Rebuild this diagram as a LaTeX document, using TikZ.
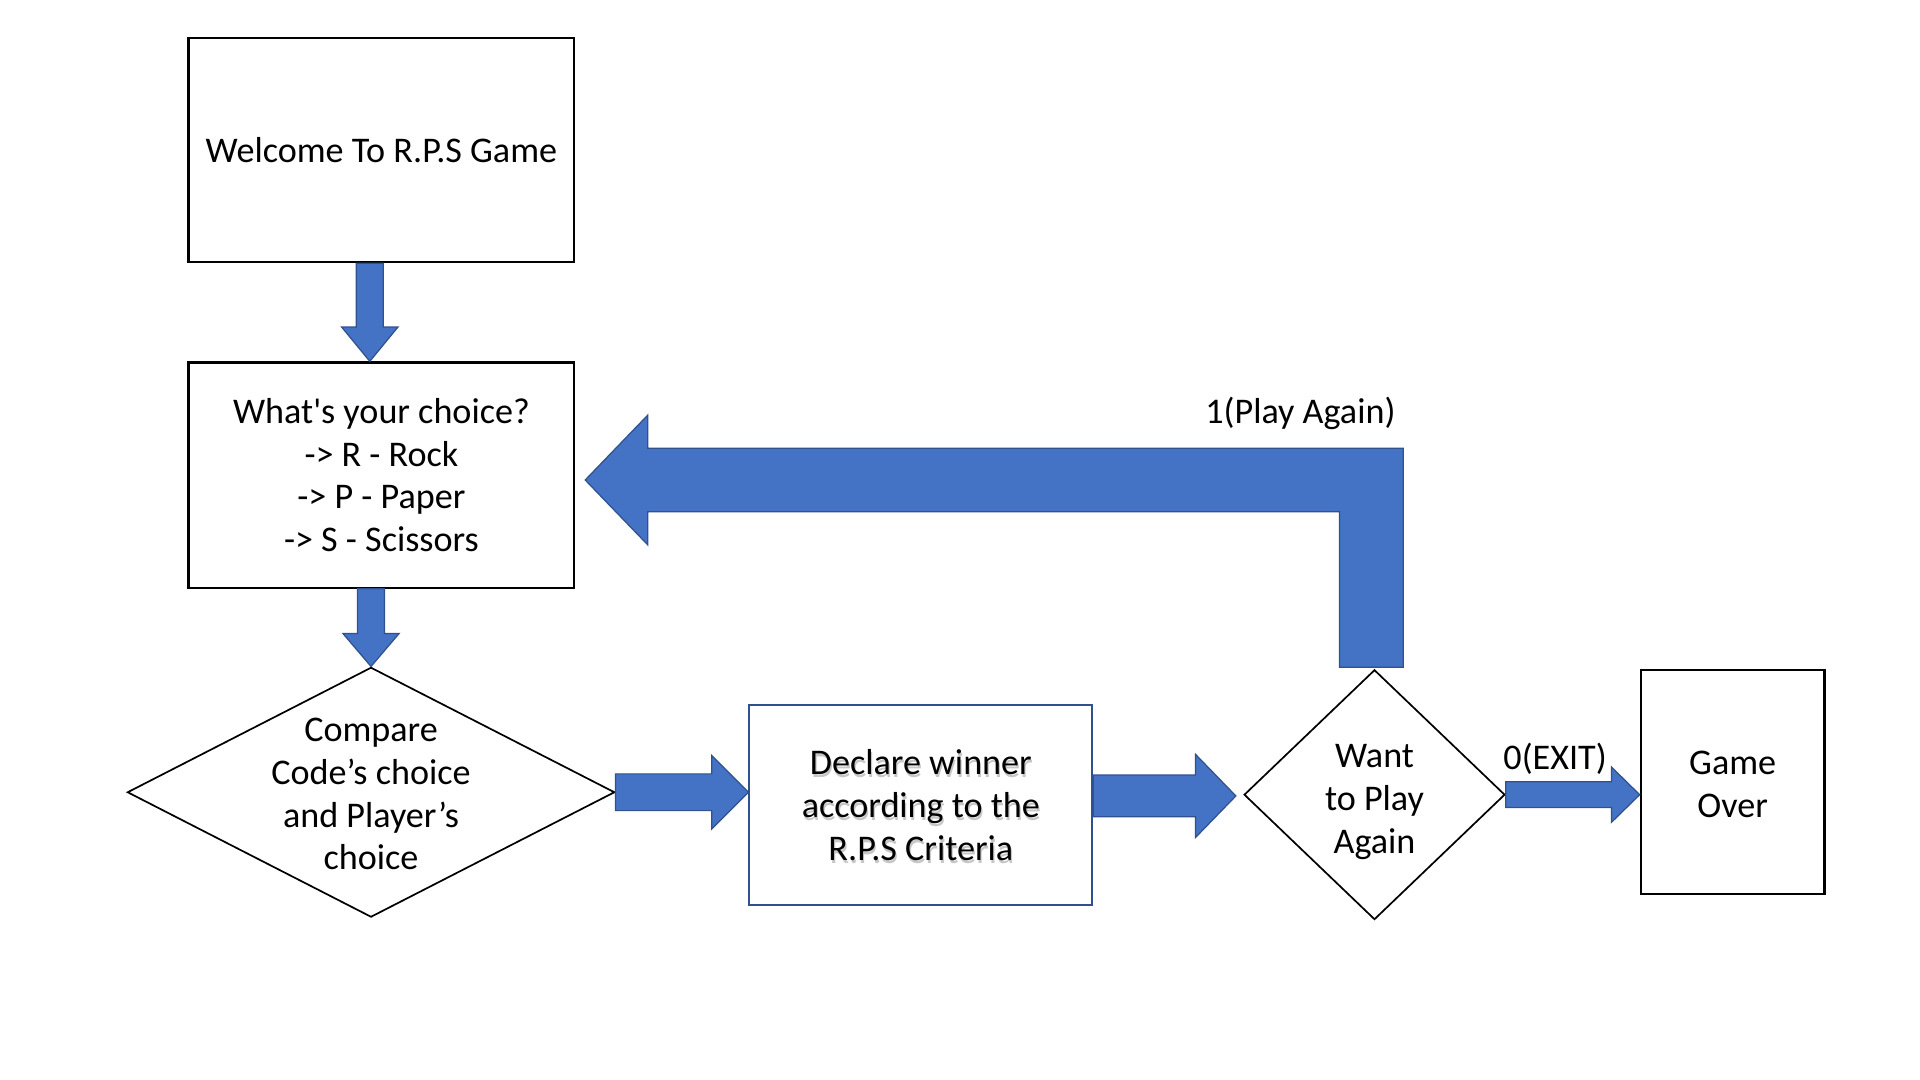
\documentclass[tikz,border=0pt]{standalone}
\usepackage{fontspec}
\setmainfont{Carlito}
\usetikzlibrary{calc,shapes.geometric}
\definecolor{blkfill}{HTML}{4472C4}
\definecolor{blkline}{HTML}{2F528F}
\tikzset{
  txt/.style={font=\fontsize{29.5}{35}\selectfont, align=center, inner sep=0pt},
  box/.style={txt, draw=black, line width=1.8pt},
  dia/.style={diamond, draw=black, line width=1.4pt, inner sep=0pt},
  blk/.style={fill=blkfill, draw=blkline, line width=1pt, line join=miter}
}
% #1 start anchor, #2 tip, #3 shaft half width, #4 head half width, #5 head length
\newcommand\blkdown[5]{%
  \path[blk] ($(#2|-#1)+(-#3,0)$) -- ($(#2|-#1)+(#3,0)$) -- ($(#2)+(#3,-#5)$)
    -- ($(#2)+(#4,-#5)$) -- (#2) -- ($(#2)+(-#4,-#5)$) -- ($(#2)+(-#3,-#5)$) -- cycle;}
\newcommand\blkright[5]{%
  \path[blk] ($(#1|-#2)+(0,-#3)$) -- ($(#2)+(-#5,-#3)$) -- ($(#2)+(-#5,-#4)$)
    -- (#2) -- ($(#2)+(-#5,#4)$) -- ($(#2)+(-#5,#3)$) -- ($(#1|-#2)+(0,#3)$) -- cycle;}
\begin{document}
\begin{tikzpicture}[x=1pt,y=-1pt]
\useasboundingbox (0,0) rectangle (1568,882);
% nodes
\node[box, minimum width=315pt, minimum height=183pt] (welcome) at (311.5,122.5) {Welcome To R.P.S Game};
\node[box, minimum width=315pt, minimum height=184pt] (choice) at (311.5,388)
  {What\textquotesingle s your choice?\\-> R - Rock\\-> P - Paper\\-> S - Scissors};
\node[dia, minimum width=398pt, minimum height=204pt] (compare) at (303,647) {};
\node[txt] (comparetext) at ($(compare.center)+(0,1.5)$) {Compare\\Code’s choice\\and Player’s\\choice};
\node[txt, text=black!22] (declareshadow) at (753,660) {Declare winner\\according to the\\R.P.S Criteria};
\node[box, draw=blkline, line width=1.5pt, minimum width=280pt, minimum height=163pt] (declare) at (752,657.5)
  {Declare winner\\according to the\\R.P.S Criteria};
\node[dia, minimum width=213pt, minimum height=204pt] (want) at (1122.5,649) {};
\node[txt] (wanttext) at ($(want.center)+(0,6)$) {Want\\to Play\\Again};
\node[box, minimum width=150pt, minimum height=183pt] (gameover) at (1415,638.5) {};
\node[txt] (gameovertext) at ($(gameover.center)+(0,2)$) {Game\\Over};
% labels
\node[txt] (playagain) at (1062,338) {1(Play Again)};
\node[txt] (exitlbl) at (1270,620) {0(EXIT)};
% block arrows
\coordinate (t1) at ($(choice.north)+(-9.5,0)$);
\blkdown{welcome.south}{t1}{11}{23}{28}
\blkdown{choice.south}{compare.north}{11}{23}{27}
\coordinate (t3) at (declare.west|-compare.east);
\blkright{compare.east}{t3}{15}{30}{30}
\coordinate (t4) at ($(want.west)+(-6,1)$);
\blkright{declare.east}{t4}{17}{34}{33}
\coordinate (t5) at (gameover.west|-want.east);
\blkright{want.east}{t5}{10.5}{22.5}{23}
% loop arrow back to choice
\coordinate (looptip) at ($(choice.east)+(8,4)$);
\path[blk] (1094,545) -- (1146,545) -- (1146,366) -- (529,366) -- (529,339)
  -- (looptip) -- (529,445) -- (529,418) -- (1094,418) -- cycle;
\end{tikzpicture}
\end{document}
